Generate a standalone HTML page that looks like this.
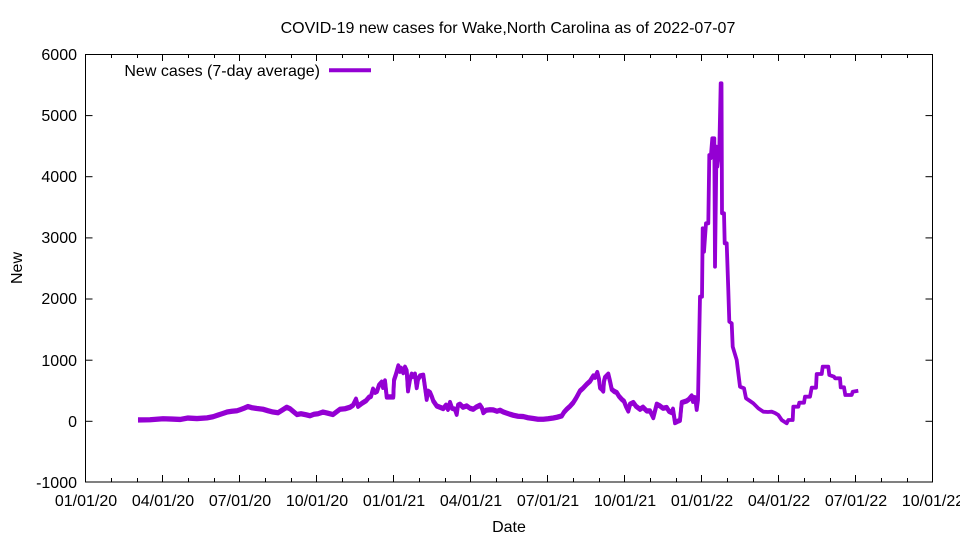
<!DOCTYPE html>
<html>
<head>
<meta charset="utf-8">
<style>
html,body{margin:0;padding:0;background:#fff;}
svg{display:block;}
text{font-family:"Liberation Sans",Arial,sans-serif;font-size:16px;fill:#000;}
</style>
</head>
<body>
<svg width="960" height="540" viewBox="0 0 960 540" xmlns="http://www.w3.org/2000/svg">
<rect width="960" height="540" fill="#fff"/>
<!-- title -->
<text x="508" y="33" text-anchor="middle">COVID-19 new cases for Wake,North Carolina as of 2022-07-07</text>

<!-- y ticks -->
<g stroke="#000" stroke-width="1">
<line x1="85.5" y1="54.5" x2="92.5" y2="54.5"/><line x1="925.5" y1="54.5" x2="932.5" y2="54.5"/>
<line x1="85.5" y1="115.6" x2="92.5" y2="115.6"/><line x1="925.5" y1="115.6" x2="932.5" y2="115.6"/>
<line x1="85.5" y1="176.7" x2="92.5" y2="176.7"/><line x1="925.5" y1="176.7" x2="932.5" y2="176.7"/>
<line x1="85.5" y1="237.9" x2="92.5" y2="237.9"/><line x1="925.5" y1="237.9" x2="932.5" y2="237.9"/>
<line x1="85.5" y1="299" x2="92.5" y2="299"/><line x1="925.5" y1="299" x2="932.5" y2="299"/>
<line x1="85.5" y1="360.2" x2="92.5" y2="360.2"/><line x1="925.5" y1="360.2" x2="932.5" y2="360.2"/>
<line x1="85.5" y1="421.3" x2="92.5" y2="421.3"/><line x1="925.5" y1="421.3" x2="932.5" y2="421.3"/>
</g>
<g text-anchor="end">
<text x="77" y="60">6000</text>
<text x="77" y="121">5000</text>
<text x="77" y="182">4000</text>
<text x="77" y="243">3000</text>
<text x="77" y="304">2000</text>
<text x="77" y="366">1000</text>
<text x="77" y="427">0</text>
<text x="77" y="488">-1000</text>
</g>

<!-- x ticks -->
<g stroke="#000" stroke-width="1">
<line x1="162.5" y1="482" x2="162.5" y2="475"/><line x1="162.5" y1="54" x2="162.5" y2="61"/>
<line x1="239.5" y1="482" x2="239.5" y2="475"/><line x1="239.5" y1="54" x2="239.5" y2="61"/>
<line x1="316.5" y1="482" x2="316.5" y2="475"/><line x1="316.5" y1="54" x2="316.5" y2="61"/>
<line x1="393.5" y1="482" x2="393.5" y2="475"/><line x1="393.5" y1="54" x2="393.5" y2="61"/>
<line x1="470.5" y1="482" x2="470.5" y2="475"/><line x1="470.5" y1="54" x2="470.5" y2="61"/>
<line x1="547.5" y1="482" x2="547.5" y2="475"/><line x1="547.5" y1="54" x2="547.5" y2="61"/>
<line x1="624.5" y1="482" x2="624.5" y2="475"/><line x1="624.5" y1="54" x2="624.5" y2="61"/>
<line x1="701.5" y1="482" x2="701.5" y2="475"/><line x1="701.5" y1="54" x2="701.5" y2="61"/>
<line x1="778.5" y1="482" x2="778.5" y2="475"/><line x1="778.5" y1="54" x2="778.5" y2="61"/>
<line x1="855.5" y1="482" x2="855.5" y2="475"/><line x1="855.5" y1="54" x2="855.5" y2="61"/>
<line x1="111.5" y1="482" x2="111.5" y2="478"/><line x1="111.5" y1="54" x2="111.5" y2="58"/>
<line x1="137.5" y1="482" x2="137.5" y2="478"/><line x1="137.5" y1="54" x2="137.5" y2="58"/>
<line x1="188.5" y1="482" x2="188.5" y2="478"/><line x1="188.5" y1="54" x2="188.5" y2="58"/>
<line x1="214.5" y1="482" x2="214.5" y2="478"/><line x1="214.5" y1="54" x2="214.5" y2="58"/>
<line x1="265.5" y1="482" x2="265.5" y2="478"/><line x1="265.5" y1="54" x2="265.5" y2="58"/>
<line x1="291.5" y1="482" x2="291.5" y2="478"/><line x1="291.5" y1="54" x2="291.5" y2="58"/>
<line x1="342.5" y1="482" x2="342.5" y2="478"/><line x1="342.5" y1="54" x2="342.5" y2="58"/>
<line x1="368.5" y1="482" x2="368.5" y2="478"/><line x1="368.5" y1="54" x2="368.5" y2="58"/>
<line x1="419.5" y1="482" x2="419.5" y2="478"/><line x1="419.5" y1="54" x2="419.5" y2="58"/>
<line x1="445.5" y1="482" x2="445.5" y2="478"/><line x1="445.5" y1="54" x2="445.5" y2="58"/>
<line x1="496.5" y1="482" x2="496.5" y2="478"/><line x1="496.5" y1="54" x2="496.5" y2="58"/>
<line x1="522.5" y1="482" x2="522.5" y2="478"/><line x1="522.5" y1="54" x2="522.5" y2="58"/>
<line x1="573.5" y1="482" x2="573.5" y2="478"/><line x1="573.5" y1="54" x2="573.5" y2="58"/>
<line x1="599.5" y1="482" x2="599.5" y2="478"/><line x1="599.5" y1="54" x2="599.5" y2="58"/>
<line x1="650.5" y1="482" x2="650.5" y2="478"/><line x1="650.5" y1="54" x2="650.5" y2="58"/>
<line x1="676.5" y1="482" x2="676.5" y2="478"/><line x1="676.5" y1="54" x2="676.5" y2="58"/>
<line x1="727.5" y1="482" x2="727.5" y2="478"/><line x1="727.5" y1="54" x2="727.5" y2="58"/>
<line x1="753.5" y1="482" x2="753.5" y2="478"/><line x1="753.5" y1="54" x2="753.5" y2="58"/>
<line x1="804.5" y1="482" x2="804.5" y2="478"/><line x1="804.5" y1="54" x2="804.5" y2="58"/>
<line x1="830.5" y1="482" x2="830.5" y2="478"/><line x1="830.5" y1="54" x2="830.5" y2="58"/>
<line x1="881.5" y1="482" x2="881.5" y2="478"/><line x1="881.5" y1="54" x2="881.5" y2="58"/>
<line x1="907.5" y1="482" x2="907.5" y2="478"/><line x1="907.5" y1="54" x2="907.5" y2="58"/>
</g>
<g text-anchor="middle">
<text x="86" y="506">01/01/20</text>
<text x="163" y="506">04/01/20</text>
<text x="240" y="506">07/01/20</text>
<text x="317" y="506">10/01/20</text>
<text x="394" y="506">01/01/21</text>
<text x="471" y="506">04/01/21</text>
<text x="548" y="506">07/01/21</text>
<text x="625" y="506">10/01/21</text>
<text x="702" y="506">01/01/22</text>
<text x="779" y="506">04/01/22</text>
<text x="856" y="506">07/01/22</text>
<text x="933" y="506">10/01/22</text>
</g>

<!-- axis labels -->
<text x="509" y="532" text-anchor="middle">Date</text>
<text transform="translate(22,268) rotate(-90)" text-anchor="middle">New</text>

<!-- border -->
<rect x="85.5" y="54.5" width="847" height="427.5" fill="none" stroke="#000" stroke-width="1"/>

<!-- legend -->
<text x="320" y="76" text-anchor="end">New cases (7-day average)</text>
<line x1="329" y1="70.3" x2="371" y2="70.3" stroke="#9400d3" stroke-width="4"/>

<!-- data thickening (noisy low segment) -->
<polyline fill="none" stroke="#9400d3" stroke-width="3.8" stroke-linejoin="round" transform="translate(0,-1.5)" points="
138,420.7 150,420.5 163,419.5 172,419.8 180,420.2 188,418.8 197,419.3 207,418.6 213,417.5 218,415.8 222,414.5 227,412.8 232,412 237,411.5 240,410.5 244,409 248,407.3 252,408.5 257,409.3 263,410 268,411.5 273,412.8 278,413.5 282,411 286.7,408 290,409.5 293,412 297,415.3 301,414.5 306,415.5 310,416.5 314,415 318,414.5 323,412.8 328,414 333,415.3 336,413 340,410 345,409.5 350,408 353,406 356,400 358,407 362,404 366,401.5 369,398 371,397 373,390 375,393 377,392 379,386 381.7,383 383,388 385,381.7 386.7,397.7 393.3,397.7 394,381 396,375 398.3,366.7 400,372 401,369 403.3,373.3 405,368 406.7,371.7 408,391.5 410,380 411.7,375 413,377 415,375 416.7,388.3 418,380 420,376.7 423.3,376 425,388 426.7,400 428,392 430,393.3 432,398 433.3,401.7 436.7,406.7 440,408 443.3,409.3 446,406 448,410 450,403.3 452,409 455,410 456.7,415 458,406 460,405 463,408 466.7,406.7 470,409 473.3,410 476,408 480,406 482,409 483.3,413.3 486,411 490,410.5 493.3,410.7 497,412 500,411 503.3,412.7 507,414 510,415 513.3,416 518,417 523.3,417.3 528,418.5 533.3,419.3 538,420 543.3,420 548,419.5 553.3,418.7 557,418 561.7,416.7 564,413 566.7,410 570,407 573.3,403.3 576,399 580,391.7 583,389 586.7,385 590,382 593.3,376.7 595,378 597.3,373.3 599,380 600,388.3 602,390 603.3,391.7 604,382 605,378.3 608.3,375 610,382 611.7,390 614,392 616.7,393.3 619,397 621.7,400 624,402 626,407 628.3,411.7 630,405 633.3,403.3 636,407 640,410 643,408 646.7,411.7 650,411.7 653.3,418.3 656.7,405 660,406.7 663,409 666.7,408.3 669,412 671.7,413.3 673,410 675,423.3 678.3,421.7 680,421 681.7,403.3 686.7,401.7 689,400 691.7,396.7 693,402 695,397"/>

<!-- data -->
<polyline fill="none" stroke="#9400d3" stroke-width="3.8" stroke-linejoin="round" stroke-linecap="butt" points="
138,420.7 150,420.5 163,419.5 172,419.8 180,420.2 188,418.8 197,419.3 207,418.6 213,417.5 218,415.8 222,414.5 227,412.8 232,412 237,411.5 240,410.5 244,409 248,407.3 252,408.5 257,409.3 263,410 268,411.5 273,412.8 278,413.5 282,411 286.7,408 290,409.5 293,412 297,415.3 301,414.5 306,415.5 310,416.5 314,415 318,414.5 323,412.8 328,414 333,415.3 336,413 340,410 345,409.5 350,408 353,406 356,400 358,407 362,404 366,401.5 369,398 371,397 373,390 375,393 377,392 379,386 381.7,383 383,388 385,381.7 386.7,397.7 393.3,397.7 394,381 396,375 398.3,366.7 400,372 401,369 403.3,373.3 405,368 406.7,371.7 408,391.5 410,380 411.7,375 413,377 415,375 416.7,388.3 418,380 420,376.7 423.3,376 425,388 426.7,400 428,392 430,393.3 432,398 433.3,401.7 436.7,406.7 440,408 443.3,409.3 446,406 448,410 450,403.3 452,409 455,410 456.7,415 458,406 460,405 463,408 466.7,406.7 470,409 473.3,410 476,408 480,406 482,409 483.3,413.3 486,411 490,410.5 493.3,410.7 497,412 500,411 503.3,412.7 507,414 510,415 513.3,416 518,417 523.3,417.3 528,418.5 533.3,419.3 538,420 543.3,420 548,419.5 553.3,418.7 557,418 561.7,416.7 564,413 566.7,410 570,407 573.3,403.3 576,399 580,391.7 583,389 586.7,385 590,382 593.3,376.7 595,378 597.3,373.3 599,380 600,388.3 602,390 603.3,391.7 604,382 605,378.3 608.3,375 610,382 611.7,390 614,392 616.7,393.3 619,397 621.7,400 624,402 626,407 628.3,411.7 630,405 633.3,403.3 636,407 640,410 643,408 646.7,411.7 650,411.7 653.3,418.3 656.7,405 660,406.7 663,409 666.7,408.3 669,412 671.7,413.3 673,410 675,423.3 678.3,421.7 680,421 681.7,403.3 686.7,401.7 689,400 691.7,396.7 693,402 695,397 696.7,410 698,400 700,296.7 702,296.7 702.7,228.3 704,251.7 706,223.3 708.3,223.3 709.3,155 710.7,158.3 712.3,138.3 714.3,138.3 715,266.7 716.5,146.7 717.3,166.7 719.3,150 720.7,83.3 721.5,83.3 722,213.3 724,213.3 724.7,243.3 726.7,243.3 728.3,290 729.3,321.7 731.7,323.3 732.7,346.7 736.7,360 740,386.7 744,388.3 746,398.3 750,401 753.3,403.3 758.3,408.3 763.3,411.7 768,412 771.7,411.7 775,413 778.3,415 781.7,420 786.7,423.3 788.3,420 792.7,420 793.3,406.7 798.3,406.7 799.3,402.7 804,402.7 805,396.7 810,396.7 811.7,387.7 816,387.7 816.7,374 821.7,374 822.7,366.7 828.3,366.7 829.3,375 834,376.7 835,378.3 840,378.3 840.7,387.3 844,387.3 845.3,395 851.7,395 852.7,391.7 858.3,390.7"/>
</svg>
</body>
</html>
